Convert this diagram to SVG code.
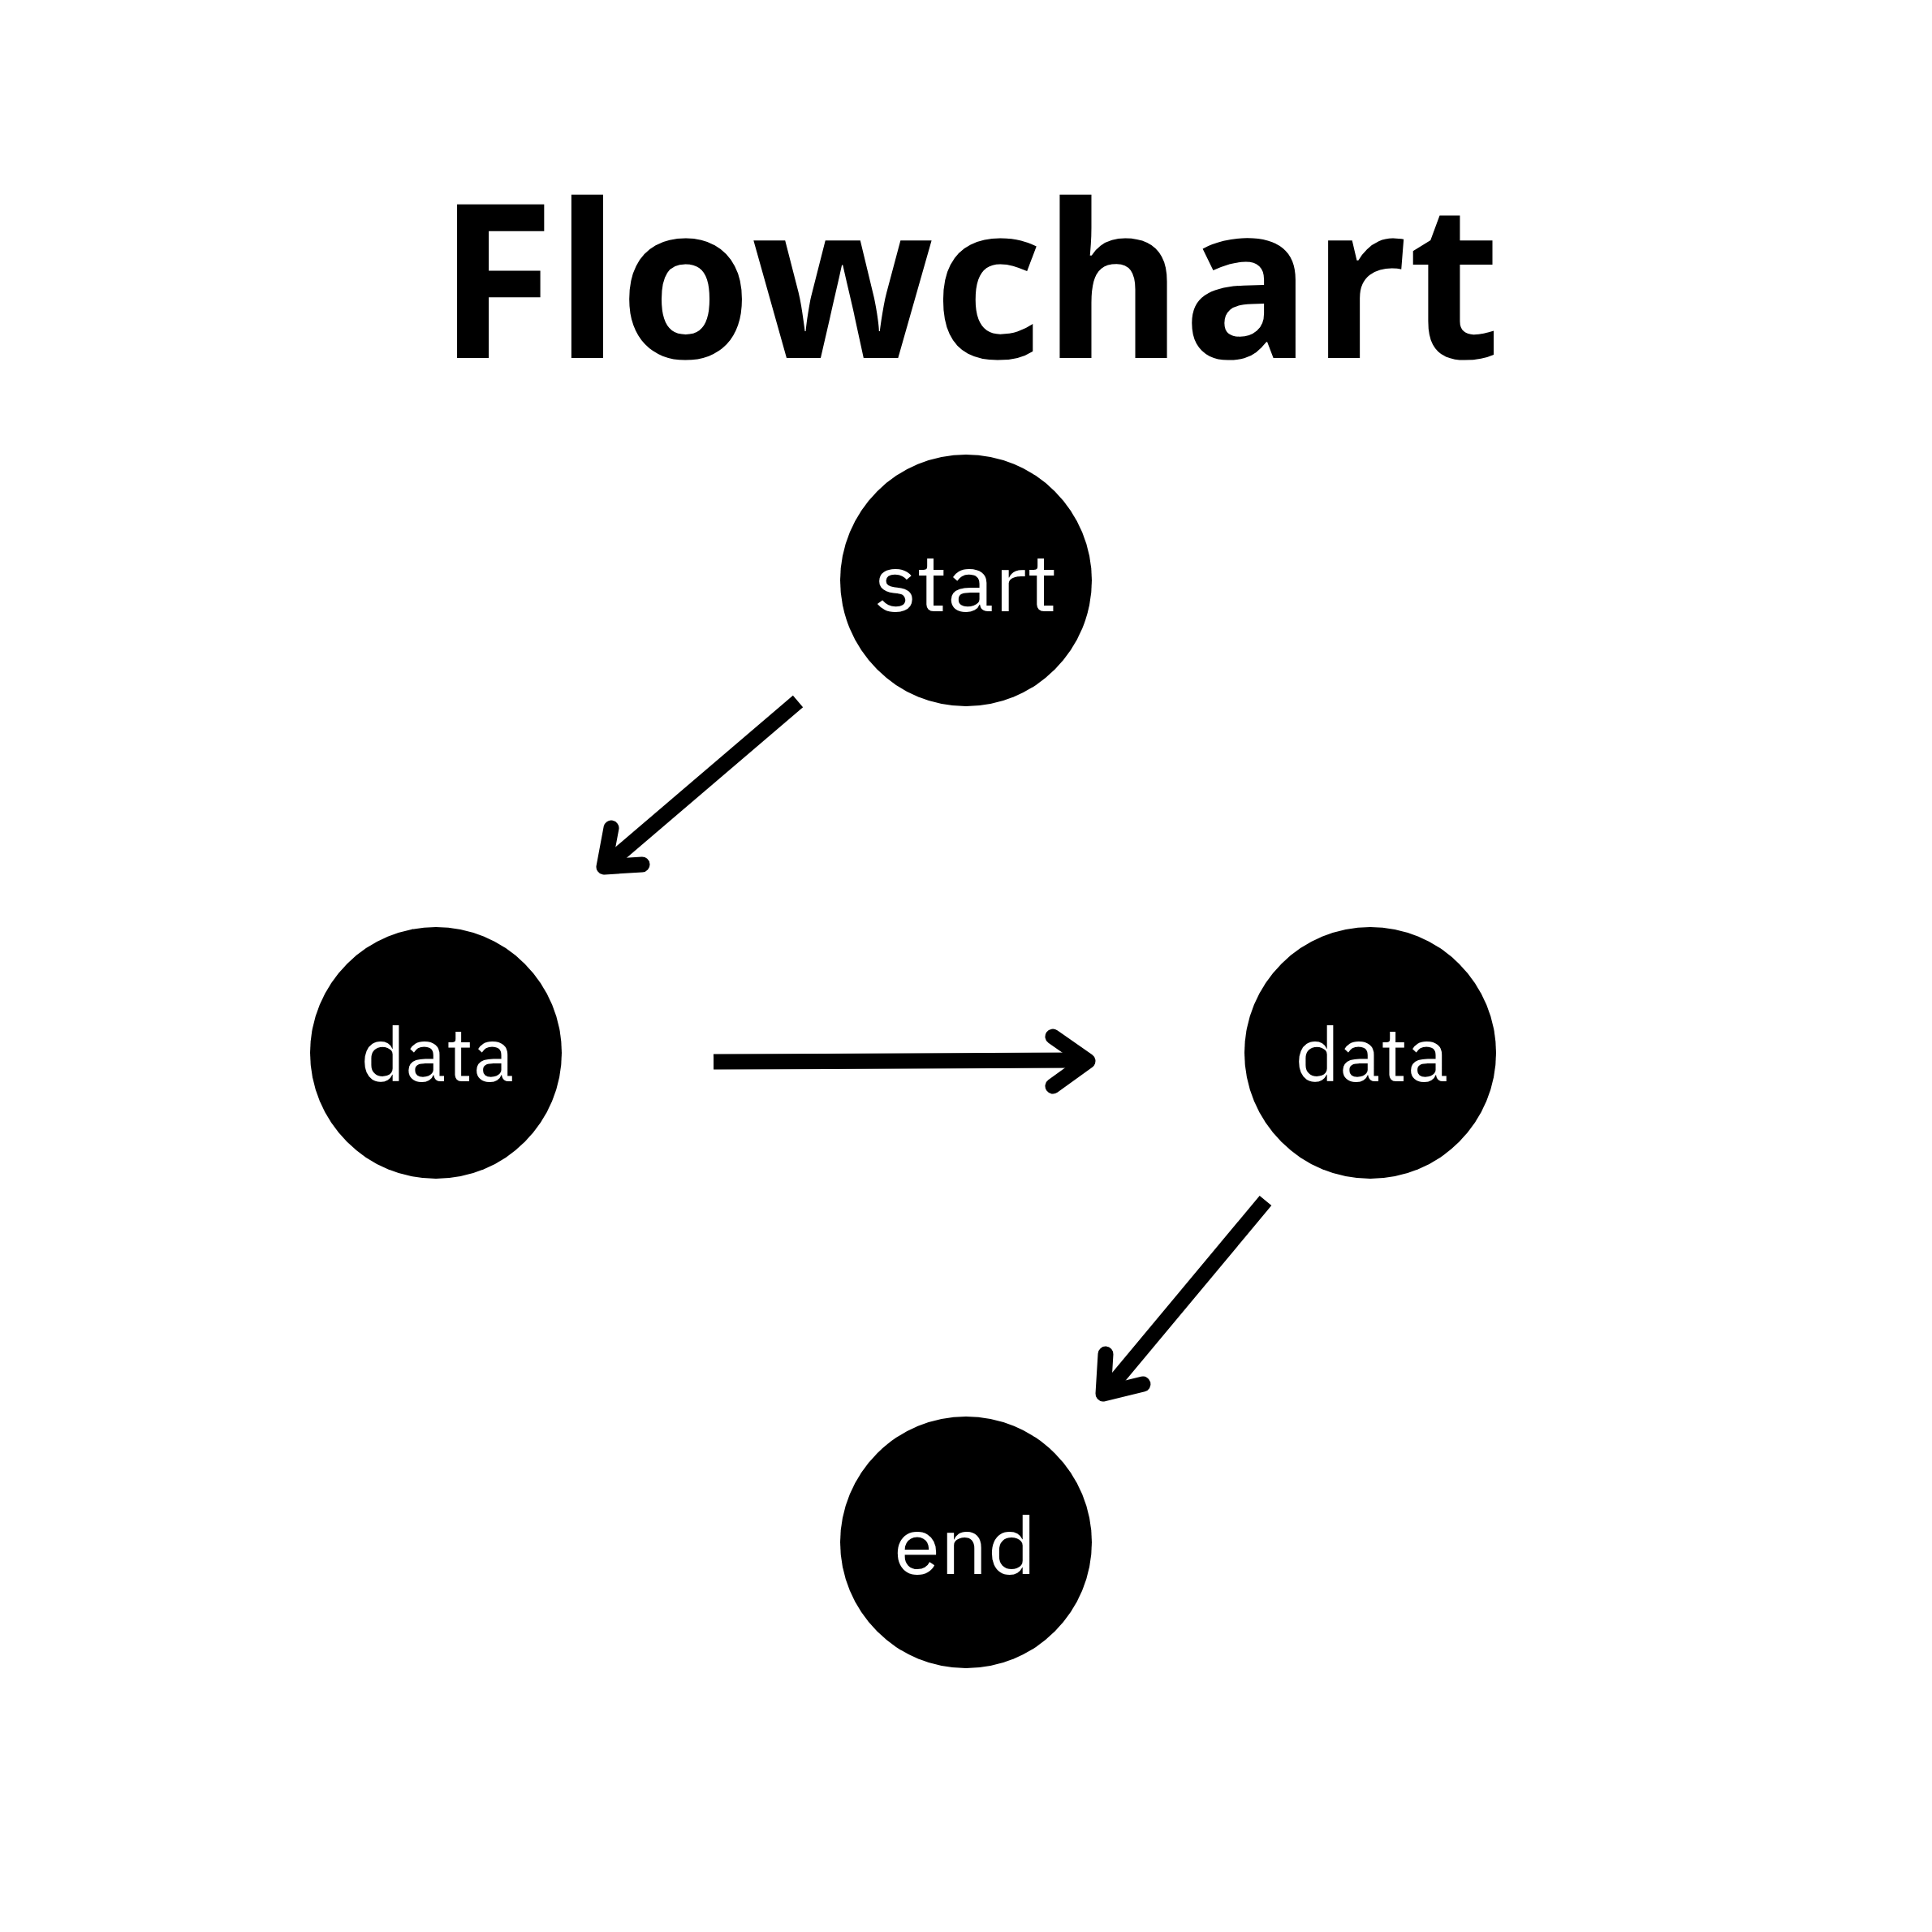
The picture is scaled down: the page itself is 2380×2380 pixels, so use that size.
<svg xmlns="http://www.w3.org/2000/svg" width="2380" height="2380" viewBox="0 0 2380 2380">
<style>
.node{fill:#000}
.lbl{fill:#fff;font-family:"IBM Plex Sans","Open Sans","Noto Sans",sans-serif;font-size:92px;text-anchor:middle}
.big{font-size:98px}
.title{fill:#000;font-family:"Open Sans","Noto Sans",sans-serif;font-weight:700;font-size:265px;text-anchor:middle}
.shaft{fill:none;stroke:#000;stroke-width:19;stroke-linecap:butt}
.head{fill:none;stroke:#000;stroke-width:19;stroke-linecap:round;stroke-linejoin:round}
</style>
<rect width="2380" height="2380" fill="#fff"/>
<text class="title" x="1194" y="441" textLength="1309" lengthAdjust="spacingAndGlyphs">Flowchart</text>
<g id="start"><circle class="node" cx="1190" cy="715" r="155"/><text class="lbl big" x="1190" y="753" textLength="226" lengthAdjust="spacingAndGlyphs">start</text></g>
<g id="data1"><circle class="node" cx="537" cy="1297" r="155"/><text class="lbl" x="539" y="1332" textLength="189" lengthAdjust="spacingAndGlyphs">data</text></g>
<g id="data2"><circle class="node" cx="1688" cy="1297" r="155"/><text class="lbl" x="1690" y="1332" textLength="189" lengthAdjust="spacingAndGlyphs">data</text></g>
<g id="end"><circle class="node" cx="1190" cy="1900" r="155"/><text class="lbl big" x="1189" y="1939" textLength="176" lengthAdjust="spacingAndGlyphs">end</text></g>
<g id="connectors">
<path class="shaft" d="M983 864 L750 1063"/>
<polyline class="head" points="753,1020 744,1068 791,1065"/>
<path class="shaft" d="M879 1308 L1335 1306"/>
<polyline class="head" points="1297,1277 1340,1307 1297,1338"/>
<path class="shaft" d="M1559 1479 L1364 1713"/>
<polyline class="head" points="1362,1668 1359,1717 1408,1705"/>
</g>
</svg>
